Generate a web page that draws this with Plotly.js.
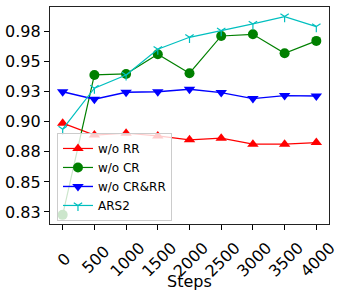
<!DOCTYPE html>
<html>
<head>
<meta charset="utf-8">
<script src="https://cdn.plot.ly/plotly-3.0.1.min.js"></script>
<style>html,body{margin:0;padding:0;background:#fff;}#chart{width:343px;height:297px;}</style>
</head>
<body>
<div id="chart"></div>
<script>
var steps = [0, 500, 1000, 1500, 2000, 2500, 3000, 3500, 4000];
var woRR = [0.8989, 0.8890, 0.8905, 0.8883, 0.8850, 0.8864, 0.8814, 0.8814, 0.8827];
var woCR = [0.8226, 0.9390, 0.9398, 0.9562, 0.9404, 0.9714, 0.9728, 0.9570, 0.9673];
var woCRRR = [0.9250, 0.9188, 0.9246, 0.9250, 0.9271, 0.9243, 0.9193, 0.9218, 0.9215];
var ars2 = [0.8939, 0.9280, 0.9390, 0.9604, 0.9703, 0.9758, 0.9814, 0.9875, 0.9792];
var yTickVals = [0.825, 0.85, 0.875, 0.90, 0.925, 0.95, 0.975];
var yTickText = ["0.83", "0.85", "0.88", "0.90", "0.93", "0.95", "0.98"];
var xTickVals = [0, 500, 1000, 1500, 2000, 2500, 3000, 3500, 4000];
var xLabel = "Steps";

// pad shorter labels (invisible no-break spaces) so rotated labels are centred on their ticks
var xTickText = xTickVals.map(function (v) {
  var s = String(v);
  return s + "\u00a0".repeat(Math.max(0, 4 - s.length));
});

var F = "DejaVu Sans, sans-serif";
var traces = [
  {x: steps, y: woRR, name: "w/o RR", mode: "lines+markers",
   line: {color: "#ff0000", width: 1.2},
   marker: {symbol: "triangle-up", size: 10, color: "#ff0000"}},
  {x: steps, y: woCR, name: "w/o CR", mode: "lines+markers",
   line: {color: "#008000", width: 1.2},
   marker: {symbol: "circle", size: 10, color: "#008000"}},
  {x: steps, y: woCRRR, name: "w/o CR&RR", mode: "lines+markers",
   line: {color: "#0000ff", width: 1.4},
   marker: {symbol: "triangle-down", size: 10, color: "#0000ff"}},
  {x: steps, y: ars2, name: "ARS2", mode: "lines+markers",
   line: {color: "#00bfbf", width: 1.2},
   marker: {symbol: "y-down", size: 7, color: "#00bfbf", line: {color: "#00bfbf", width: 1.2}}}
];

var layout = {
  width: 343, height: 297,
  margin: {l: 50, r: 14, t: 7, b: 73},
  paper_bgcolor: "#ffffff", plot_bgcolor: "#ffffff",
  font: {family: F, size: 16, color: "#000"},
  showlegend: true,
  legend: {x: 0.025, y: 0.014, xanchor: "left", yanchor: "bottom",
    bgcolor: "rgba(255,255,255,0.8)", bordercolor: "#cccccc", borderwidth: 1,
    font: {family: F, size: 12, color: "#000"}, tracegroupgap: 0},
  annotations: [{text: xLabel, xref: "paper", yref: "paper", x: 0.5, y: -0.266,
    xanchor: "center", yanchor: "middle", showarrow: false,
    font: {family: F, size: 16, color: "#000"}}],
  xaxis: {range: [-200, 4200], tickvals: xTickVals, ticktext: xTickText,
    tickangle: -45, ticks: "outside", ticklen: 5, tickcolor: "#000", tickwidth: 1,
    ticklabelshift: 14, ticklabelstandoff: 2,
    showgrid: false, zeroline: false, showline: true, linecolor: "#222", linewidth: 1.2, mirror: true,
    tickfont: {family: F, size: 16}, automargin: false},
  yaxis: {range: [0.815, 0.9955], tickvals: yTickVals, ticktext: yTickText,
    ticks: "outside", ticklen: 5, tickcolor: "#000", tickwidth: 1,
    showgrid: false, zeroline: false, showline: true, linecolor: "#222", linewidth: 1.2, mirror: true,
    tickfont: {family: F, size: 16}, automargin: false}
};
Plotly.newPlot("chart", traces, layout, {displayModeBar: false, staticPlot: true});
</script>
</body>
</html>
